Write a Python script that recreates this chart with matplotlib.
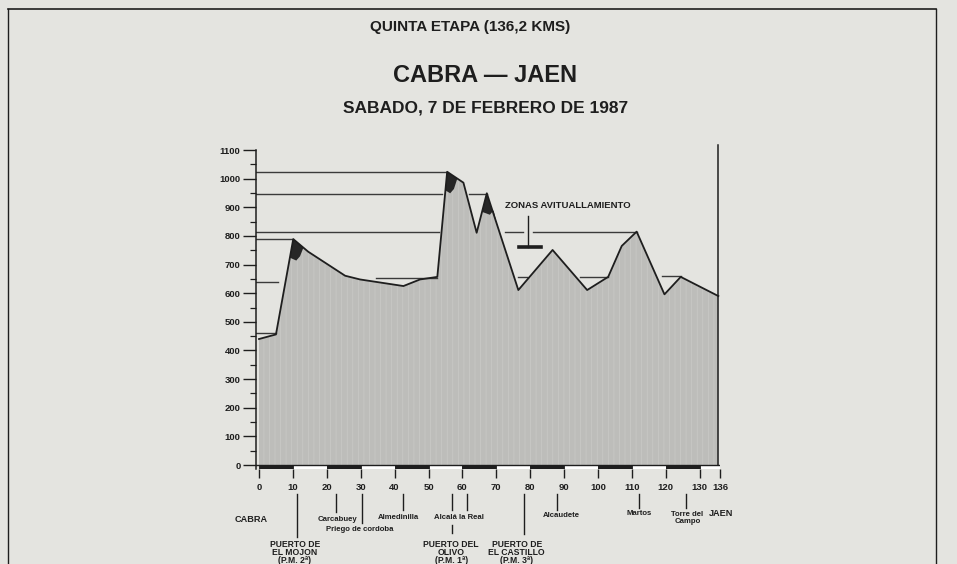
import matplotlib.pyplot as plt
from matplotlib.lines import Line2D

plt.rcParams['font.family'] = ['Liberation Sans', 'DejaVu Sans']
plt.rcParams['hatch.linewidth'] = 0.5

# -----------------------------
# Data read from the stage profile
# -----------------------------
km = [0, 5.0, 10.1, 14.5, 25.4, 29.8, 42.6, 47.5, 52.6, 55.5, 60.3, 64.2,
      67.2, 76.5, 86.6, 96.8, 103.0, 107.0, 111.4, 119.6, 124.4, 135.5]
altitude = [440, 456, 789, 745, 661, 648, 625, 648, 657, 1024, 986, 811,
            949, 611, 751, 611, 657, 765, 815, 596, 657, 590]

# horizontal altitude guides: level, from km, to km
guide_level = [1024, 947, 947, 813, 813, 813, 790, 640, 652, 655, 657, 660, 460]
guide_from = [-1, -1, 62.0, -1, 72.6, 80.9, -1, -1, 34.5, 76.5, 94.7, 118.8, -1]
guide_to = [55.5, 53.9, 67.2, 53.2, 78.0, 111.4, 10.1, 5.7, 52.4, 79.0, 103.0, 124.4, 5.0]

x_ticks = [0, 10, 20, 30, 40, 50, 60, 70, 80, 90, 100, 110, 120, 130, 136]
y_ticks = [0, 100, 200, 300, 400, 500, 600, 700, 800, 900, 1000, 1100]

# mountain passes (dark tops on the profile)
peak_km = [10.1, 55.5, 67.2]

# towns under the axis
town_names = ["Carcabuey", "Priego de cordoba", "Almedinilla", "Alcalá la Real",
              "Alcaudete", "Martos", "Torre del\nCampo"]
town_km = [22.6, 30.3, 42.6, 61.4, 88.0, 112.1, 126.0]
town_text_km = [23.0, 29.8, 41.2, 59.0, 89.3, 112.2, 126.4]
town_text_y = [-192, -225, -185, -185, -175, -171, -186]
town_line_end = [-163, -203, -157, -157, -157, -150, -150]

puerto_names = ["PUERTO DE\nEL MOJON\n(P.M. 2ª)", "PUERTO DEL\nOLIVO\n(P.M. 1ª)",
                "PUERTO DE\nEL CASTILLO\n(P.M. 3ª)"]
puerto_km = [11.3, 57.0, 78.3]
puerto_text_km = [10.6, 56.7, 76.0]

paper = '#e4e4e0'
ink = '#1e1e1e'

# -----------------------------
# Figure
# -----------------------------
fig = plt.figure(figsize=(9.57, 5.64), dpi=100, facecolor=paper)
ax = fig.add_axes([0.2671, 0.1679, 0.4853, 0.5661])
ax.set_facecolor(paper)
ax.set_xlim(-1, 136)
ax.set_ylim(-15, 1100)

# filled profile
ax.fill_between(km, altitude, 0, facecolor='#bdbdba', edgecolor='#cacac7',
                hatch='|||', linewidth=0)
for lvl, a, b in zip(guide_level, guide_from, guide_to):
    ax.plot([a, b], [lvl, lvl], color='#3a3a3a', lw=1.0)
ax.plot(km, altitude, color=ink, lw=1.3)
ax.plot([km[-1], km[-1]], [0, 1117], color=ink, lw=1.1, clip_on=False)

# dark tops of the passes
for pk in peak_km:
    i = km.index(pk)
    xp, yp = km[i], altitude[i]
    t = 65 / (yp - altitude[i - 1])
    xl = xp - t * (xp - km[i - 1])
    xr = xp + 3.0
    yr = yp + (altitude[i + 1] - yp) * (xr - xp) / (km[i + 1] - xp)
    ax.fill([xp, xr, xp + 2.0, xp + 0.9, xl], [yp, yr, yp - 60, yp - 75, yp - 65],
            color='#262626', lw=0)

# baseline with km stripes
ax.plot([-1, 136], [0, 0], color=ink, lw=1.0)
for j in range(len(x_ticks) - 1):
    ax.bar(x_ticks[j], 15, width=x_ticks[j + 1] - x_ticks[j], bottom=-15,
           align='edge', color=ink if j % 2 == 0 else 'white',
           edgecolor=ink, lw=0.6)

# feeding zone marker
ax.text(72.6, 908, "ZONAS AVITUALLAMIENTO", fontsize=6.8, fontweight='bold',
        ha='left', va='center', color=ink)
ax.plot([79.4, 79.4], [760, 869], color=ink, lw=1.0)
ax.plot([76.8, 83.1], [760, 760], color=ink, lw=2.6)

# axes
for s in ['top', 'right', 'bottom']:
    ax.spines[s].set_visible(False)
ax.spines['left'].set_color(ink)
ax.spines['left'].set_linewidth(1.1)
ax.set_yticks(y_ticks)
ax.set_yticks([v + 50 for v in y_ticks[:-1]], minor=True)
ax.set_xticks(x_ticks)
ax.tick_params(axis='y', which='major', length=9.4, width=1.0, color=ink,
               labelsize=6.8, pad=1.5)
ax.tick_params(axis='y', which='minor', length=4.3, width=0.9, color=ink)
ax.tick_params(axis='x', length=6.3, width=1.0, color=ink, labelsize=6.8, pad=3.5)
for lab in ax.get_xticklabels() + ax.get_yticklabels():
    lab.set_fontweight('bold')
    lab.set_color(ink)

# town labels
for name, k, tk, ty, le in zip(town_names, town_km, town_text_km, town_text_y,
                                town_line_end):
    ax.plot([k, k], [-101, le], color=ink, lw=1.0, clip_on=False)
    ax.text(tk, ty, name, fontsize=5.6, fontweight='bold', ha='center',
            va='center', linespacing=1.0, color=ink, clip_on=False)

puerto_line_end = [-250, -157, -242]
for name, k, tk, le in zip(puerto_names, puerto_km, puerto_text_km, puerto_line_end):
    ax.plot([k, k], [-101, le], color=ink, lw=1.0, clip_on=False)
    ax.text(tk, -262, name, fontsize=6.2, fontweight='bold', ha='center',
            va='top', linespacing=0.85, color=ink, clip_on=False)
# lower part of the Olivo pointer, below "Alcalá la Real"
ax.plot([puerto_km[1], puerto_km[1]], [-209, -237], color=ink, lw=1.0, clip_on=False)

ax.text(-2.3, -192, "CABRA", fontsize=6.6, fontweight='bold', ha='center',
        va='center', color=ink, clip_on=False)
ax.text(136.3, -171, "JAEN", fontsize=6.6, fontweight='bold', ha='center',
        va='center', color=ink, clip_on=False)

# titles
fig.text(470 / 957, 1 - 27 / 564, "QUINTA ETAPA (136,2 KMS)", fontsize=11,
         fontweight='bold', ha='center', va='center', color=ink)
fig.text(485 / 957, 1 - 76 / 564, "CABRA — JAEN", fontsize=17,
         fontweight='bold', ha='center', va='center', color=ink)
fig.text(486 / 957, 1 - 108 / 564, "SABADO, 7 DE FEBRERO DE 1987", fontsize=12.5,
         fontweight='bold', ha='center', va='center', color=ink)

# frame of the box
fig.add_artist(Line2D([8 / 957, 936 / 957], [1 - 9 / 564, 1 - 9 / 564], color=ink, lw=1.2))
fig.add_artist(Line2D([8 / 957, 8 / 957], [0, 1 - 9 / 564], color=ink, lw=1.0))
fig.add_artist(Line2D([936 / 957, 936 / 957], [0, 1 - 9 / 564], color=ink, lw=1.0))

fig.savefig('out.png', dpi=100, facecolor=paper)
